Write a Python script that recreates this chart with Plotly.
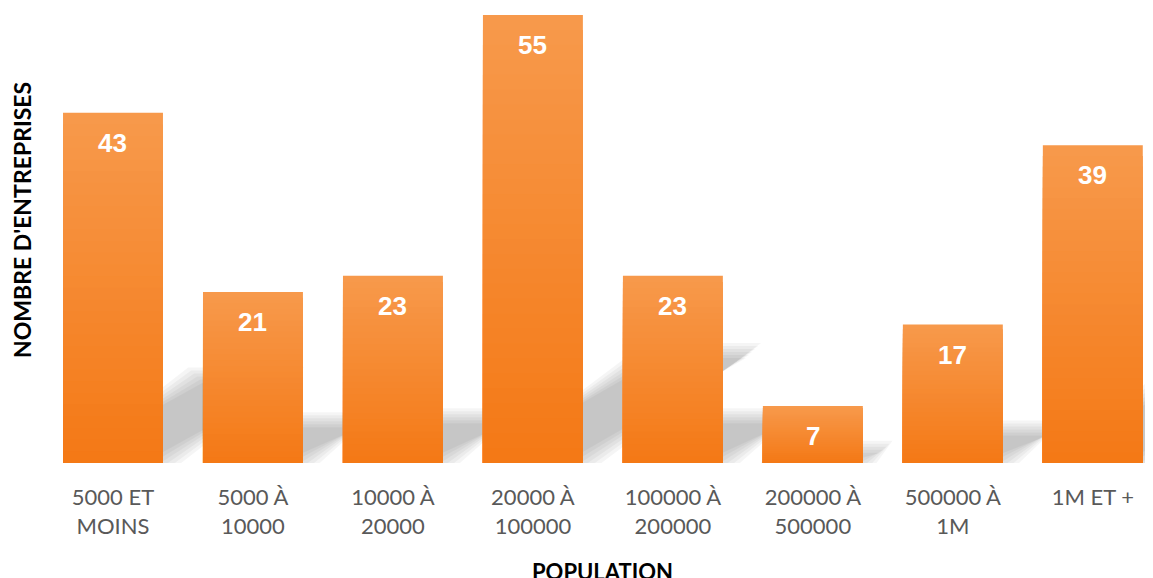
import plotly.graph_objects as go

categories = ["5000 ET<br>MOINS", "5000 À<br>10000", "10000 À<br>20000", "20000 À<br>100000",
              "100000 À<br>200000", "200000 À<br>500000", "500000 À<br>1M", "1M ET +"]
values = [43, 21, 23, 55, 23, 7, 17, 39]
y_title = "NOMBRE D'ENTREPRISES"
x_title = "POPULATION"

# page body has an 8px margin; compensate so the plot area lands where the reference has it
OFF = 8
W, H = 1153 - OFF, 578 - OFF
ML, MR, MT, MB = 43 - OFF, 0, 15 - OFF, 115
XR = [-0.5, 7.43]
YR = [0, 55]
PW = W - ML - MR
PH = H - MT - MB
px_x = PW / (XR[1] - XR[0])
px_y = PH / (YR[1] - YR[0])
BW = 0.714


def paper_x(page_px):
    return (page_px - OFF - ML) / PW


def paper_y(page_px):
    return (H - MB - (page_px - OFF)) / PH


xs = list(range(len(values)))
fig = go.Figure()

# gradient: overlapping bars, light (top) to dark (bottom)
N = 30
top_c = (247, 153, 75)
bot_c = (244, 121, 22)
for k in range(N):
    frac = (N - k) / N
    t = k / (N - 1)
    c = tuple(round(top_c[j] + (bot_c[j] - top_c[j]) * t) for j in range(3))
    fig.add_trace(go.Bar(
        x=xs, y=[v * frac for v in values], width=BW,
        marker=dict(color="rgb(%d,%d,%d)" % c, line=dict(width=0)),
        hoverinfo="skip", showlegend=False,
    ))

# perspective shadows (soft, layered)
shapes = []
K, S = 0.38, 0.25
for i, v in enumerate(values):
    hpx = v * px_y
    dx = K * hpx / px_x
    dy = S * v
    for e in [-7, -4, -1, 2, 5, 8]:
        ex = e / px_x
        ey = e / px_y
        x0 = i - BW / 2 - ex
        x1 = i + BW / 2 + ex
        path = "M %f,%f L %f,%f L %f,%f L %f,%f Z" % (
            x0, 0 - ey, x1, 0 - ey, x1 + dx, dy + ey, x0 + dx, dy + ey)
        shapes.append(dict(type="path", path=path, xref="x", yref="y", layer="below",
                           fillcolor="rgba(0,0,0,0.038)", line=dict(width=0)))

annotations = []
for i, v in enumerate(values):
    annotations.append(dict(x=i, y=v, xref="x", yref="y", text="<b>%d</b>" % v, showarrow=False,
                            yshift=-30, yanchor="middle",
                            font=dict(family="Liberation Sans", size=26, color="white")))
annotations.append(dict(x=paper_x(22), y=paper_y(220), xref="paper", yref="paper",
                        text="<b>%s</b>" % y_title, textangle=-90, showarrow=False,
                        xanchor="center", yanchor="middle",
                        font=dict(family="Lato", size=23, color="black")))
annotations.append(dict(x=paper_x(602), y=paper_y(571), xref="paper", yref="paper",
                        text="<b>%s</b>" % x_title, showarrow=False,
                        xanchor="center", yanchor="middle",
                        font=dict(family="Lato", size=22, color="black")))

fig.update_layout(
    width=W, height=H, margin=dict(l=ML, r=MR, t=MT, b=MB),
    barmode="overlay", plot_bgcolor="white", paper_bgcolor="white",
    shapes=shapes, annotations=annotations, showlegend=False,
    xaxis=dict(range=XR, tickvals=xs, ticktext=categories, showgrid=False, zeroline=False,
               showline=False, ticks="", ticklabelstandoff=19,
               tickfont=dict(family="Lato", size=22, color="#595959")),
    yaxis=dict(range=YR, showgrid=False, zeroline=False, showline=False, showticklabels=False, ticks=""),
)
fig.write_html("out.html")
